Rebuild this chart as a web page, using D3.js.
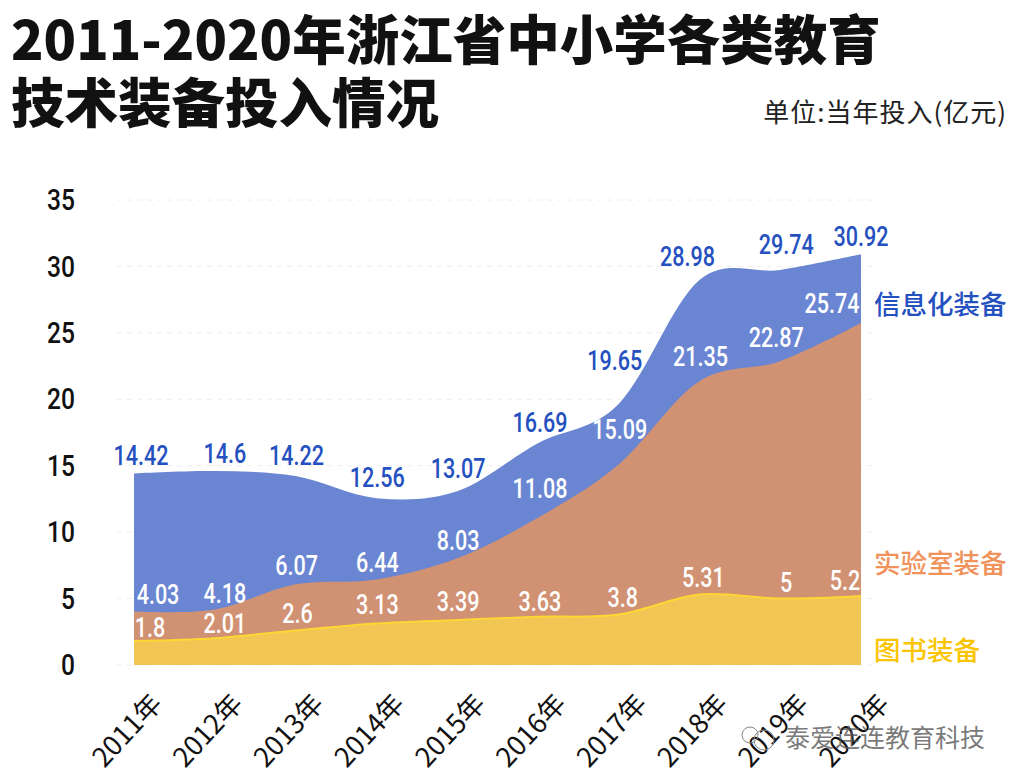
<!DOCTYPE html>
<meta charset="utf-8" />
<head>
  <script src="https://d3js.org/d3.v7.min.js"></script>
  <style>
    html, body { margin: 0; background: #fff; }
    text { font-family: "Noto Sans CJK SC", sans-serif; }
    .num { font-family: Roboto, sans-serif; font-weight: 500; }
  </style>
</head>
<body>
  <div id="chart"></div>
</body>
<script>
  const years = ["2011年", "2012年", "2013年", "2014年", "2015年", "2016年", "2017年", "2018年", "2019年", "2020年"];
  const books = [1.8, 2.01, 2.6, 3.13, 3.39, 3.63, 3.8, 5.31, 5, 5.2];
  const lab = [4.03, 4.18, 6.07, 6.44, 8.03, 11.08, 15.09, 21.35, 22.87, 25.74];
  const info = [14.42, 14.6, 14.22, 12.56, 13.07, 16.69, 19.65, 28.98, 29.74, 30.92];
  const yTicks = [0, 5, 10, 15, 20, 25, 30, 35];

  const width = 1017, height = 782;
  const svg = d3.select("#chart").append("svg")
    .attr("width", width).attr("height", height).style("display", "block");

  const x = d3.scalePoint().domain(years).range([134, 861]);
  const y = d3.scaleLinear().domain([0, 35]).range([665, 200]);

  // title
  svg.append("text").attr("x", 11).attr("y", 60).text("2011-2020年浙江省中小学各类教育")
    .attr("font-size", 53.5).attr("font-weight", 900).attr("fill", "#111");
  svg.append("text").attr("x", 11).attr("y", 123).text("技术装备投入情况")
    .attr("font-size", 53.5).attr("font-weight", 900).attr("fill", "#111");
  svg.append("text").attr("x", 1007).attr("y", 122).attr("text-anchor", "end")
    .text("单位:当年投入(亿元)").attr("font-size", 26).attr("letter-spacing", 1).attr("fill", "#222");

  // grid
  svg.append("g").selectAll("line").data(yTicks).join("line")
    .attr("x1", 117).attr("x2", 873)
    .attr("y1", d => y(d)).attr("y2", d => y(d))
    .attr("stroke", "#eeeeee").attr("stroke-dasharray", "5,5");

  // y axis
  const yAxis = svg.append("g").attr("transform", "translate(75,0)")
    .call(d3.axisLeft(y).tickValues(yTicks).tickSize(0).tickPadding(0));
  yAxis.select(".domain").remove();
  yAxis.selectAll("text").attr("class", "num")
    .attr("font-size", 30).attr("fill", "#111")
    .attr("transform", "scale(0.82,1)");

  // x axis
  const xAxis = svg.append("g").attr("transform", "translate(0,665)")
    .call(d3.axisBottom(x).tickSize(0));
  xAxis.select(".domain").remove();
  xAxis.selectAll("text")
    .attr("font-size", 27).attr("fill", "#111")
    .attr("text-anchor", "end")
    .attr("dy", 0)
    .attr("transform", "translate(27,38) rotate(-47)");

  // areas, overlaid back to front
  const curve = d3.curveCatmullRom.alpha(0);
  function area(vals, fill, strokeCol) {
    const pts = vals.map((v, i) => [x(years[i]), y(v)]);
    svg.append("path").datum(pts)
      .attr("d", d3.area().x(d => d[0]).y0(y(0)).y1(d => d[1]).curve(curve))
      .attr("fill", fill);
    if (strokeCol) {
      svg.append("path").datum(pts)
        .attr("d", d3.line().curve(curve))
        .attr("fill", "none").attr("stroke", strokeCol).attr("stroke-width", 2);
    }
  }
  area(info, "#6a86d3");
  area(lab, "#d19173");
  area(books, "#f2c655", "#fdd733");

  // value labels, nudged by hand like the original
  function labels(vals, fill, dxs, dys) {
    svg.append("g").selectAll("text").data(vals).join("text")
      .attr("class", "num")
      .attr("text-anchor", "middle")
      .attr("font-size", 28)
      .attr("fill", fill)
      .attr("transform", (d, i) =>
        "translate(" + (x(years[i]) + dxs[i]) + "," + (y(d) + dys[i]) + ") scale(0.77,1)")
      .text(d => d);
  }
  labels(info, "#2450c0",
    [7, 10, 1, 1, 1, 2, -4, -12, 6, 0],
    [-8, -8, -11, -11, -13, -11, -34, -14, -16, -8]);
  labels(lab, "#fff",
    [24, 10, 1, 1, 1, 2, 1, 1, -4, -29],
    [-7, -6, -9, -7, -8, -20, -26, -15, -14, -10]);
  labels(books, "#fff",
    [16, 10, 2, 1, 1, 2, 4, 4, 6, -16],
    [-4, -5, -7, -9, -9, -6, -8, -7, -7, -6]);

  // series names
  const names = [["信息化装备", "#2450c0", 314], ["实验室装备", "#f0925a", 573], ["图书装备", "#fbc400", 660]];
  svg.append("g").selectAll("text").data(names).join("text")
    .attr("x", 874).attr("y", d => d[2]).attr("font-weight", 500)
    .attr("font-size", 26.5).attr("fill", d => d[1]).text(d => d[0]);

  // watermark
  const wm = svg.append("g").attr("fill", "none").attr("stroke", "#888");
  wm.append("circle").attr("cx", 750).attr("cy", 735).attr("r", 8);
  wm.append("circle").attr("cx", 764).attr("cy", 740).attr("r", 10);
  svg.append("text").attr("x", 785).attr("y", 747)
    .text("泰爱连连教育科技").attr("font-size", 25).attr("fill", "#555").attr("fill-opacity", 0.8);
</script>
